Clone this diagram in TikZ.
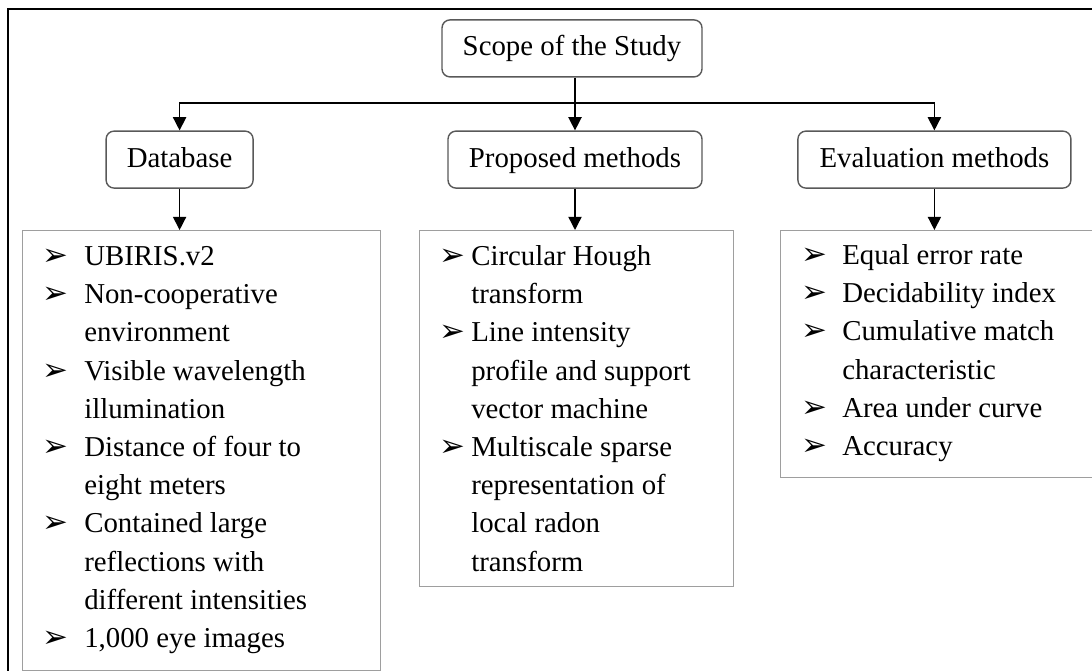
\documentclass[tikz,border=0pt]{standalone}
\usepackage{fontspec}
\setmainfont{Liberation Serif}
\newfontfamily\bulletfont{DejaVu Sans}
\usetikzlibrary{arrows.meta, positioning}

\newcommand{\bul}[1]{\makebox[#1][l]{\bulletfont\fontsize{22}{22}\selectfont\char"27A2}}
\newcommand{\nobul}[1]{\hspace*{#1}}
\newcommand{\firstline}{\rule{0pt}{0.7cm}}

\tikzset{
  headbox/.style={draw=black!65, line width=1pt, rounded corners=0.2cm, fill=white,
                  minimum height=1.425cm, inner sep=0pt, text height=0.5cm, text depth=0.12cm,
                  font=\fontsize{20.5}{27.2}\selectfont},
  listbox/.style={draw=black!38, line width=1pt, anchor=north west, inner sep=0pt},
  listtext/.style={anchor=north west, align=left, inner sep=0pt, font=\fontsize{20.5}{27.2}\selectfont},
  arr/.style={-{Triangle[length=0.33cm, width=0.33cm]}, line width=1pt}
}

\begin{document}
\begin{tikzpicture}
  \useasboundingbox (0,0) rectangle (27.3,-16.775);
  \clip (0,0) rectangle (27.3,-16.775);
  % outer frame, cut at the right and bottom
  \draw[line width=1.4pt] (0.2,-0.225) rectangle (28,-18);

  % top box and the three headings
  \node[headbox, minimum width=6.5cm] (scope) at (14.3,-1.21) {Scope of the Study};
  \node[headbox, minimum width=3.675cm] (db) at (4.49,-3.99) {Database};
  \node[headbox, minimum width=6.35cm] (prop) at (14.375,-3.99) {Proposed methods};
  \node[headbox, minimum width=6.825cm] (eval) at (23.36,-3.99) {Evaluation methods};

  \coordinate (split) at (prop.north |- 0,-2.575);
  \draw[line width=1pt] (split |- scope.south) -- (split);
  \draw[arr] (split) -| (db.north);
  \draw[arr] (split) -- (prop.north);
  \draw[arr] (split) -| (eval.north);

  % list boxes
  \node[listbox, minimum width=8.95cm, minimum height=11cm] (dblist) at (0.55,-5.75) {};
  \node[listbox, minimum width=7.85cm, minimum height=8.9cm] (proplist) at (10.475,-5.75) {};
  \node[listbox, minimum width=7.95cm, minimum height=6.175cm] (evallist) at (19.5,-5.75) {};

  \draw[arr] (db.south) -- (db.south |- dblist.north);
  \draw[arr] (prop.south) -- (prop.south |- proplist.north);
  \draw[arr] (eval.south) -- (eval.south |- evallist.north);

  % list texts
  \node[listtext] (dbtext) at ([xshift=0.5cm, yshift=-0.175cm]dblist.north west) {%
    \firstline\bul{1.05cm}UBIRIS.v2\\
    \bul{1.05cm}Non-cooperative\\
    \nobul{1.05cm}environment\\
    \bul{1.05cm}Visible wavelength\\
    \nobul{1.05cm}illumination\\
    \bul{1.05cm}Distance of four to\\
    \nobul{1.05cm}eight meters\\
    \bul{1.05cm}Contained large\\
    \nobul{1.05cm}reflections with\\
    \nobul{1.05cm}different intensities\\
    \bul{1.05cm}1,000 eye images};
  \node[listtext] (proptext) at ([xshift=0.5cm, yshift=-0.175cm]proplist.north west) {%
    \firstline\bul{0.8cm}Circular Hough\\
    \nobul{0.8cm}transform\\
    \bul{0.8cm}Line intensity\\
    \nobul{0.8cm}profile and support\\
    \nobul{0.8cm}vector machine\\
    \bul{0.8cm}Multiscale sparse\\
    \nobul{0.8cm}representation of\\
    \nobul{0.8cm}local radon\\
    \nobul{0.8cm}transform};
  \node[listtext] (evaltext) at ([xshift=0.525cm, yshift=-0.15cm]evallist.north west) {%
    \firstline\bul{1.025cm}Equal error rate\\
    \bul{1.025cm}Decidability index\\
    \bul{1.025cm}Cumulative match\\
    \nobul{1.025cm}characteristic\\
    \bul{1.025cm}Area under curve\\
    \bul{1.025cm}Accuracy};
\end{tikzpicture}
\end{document}
